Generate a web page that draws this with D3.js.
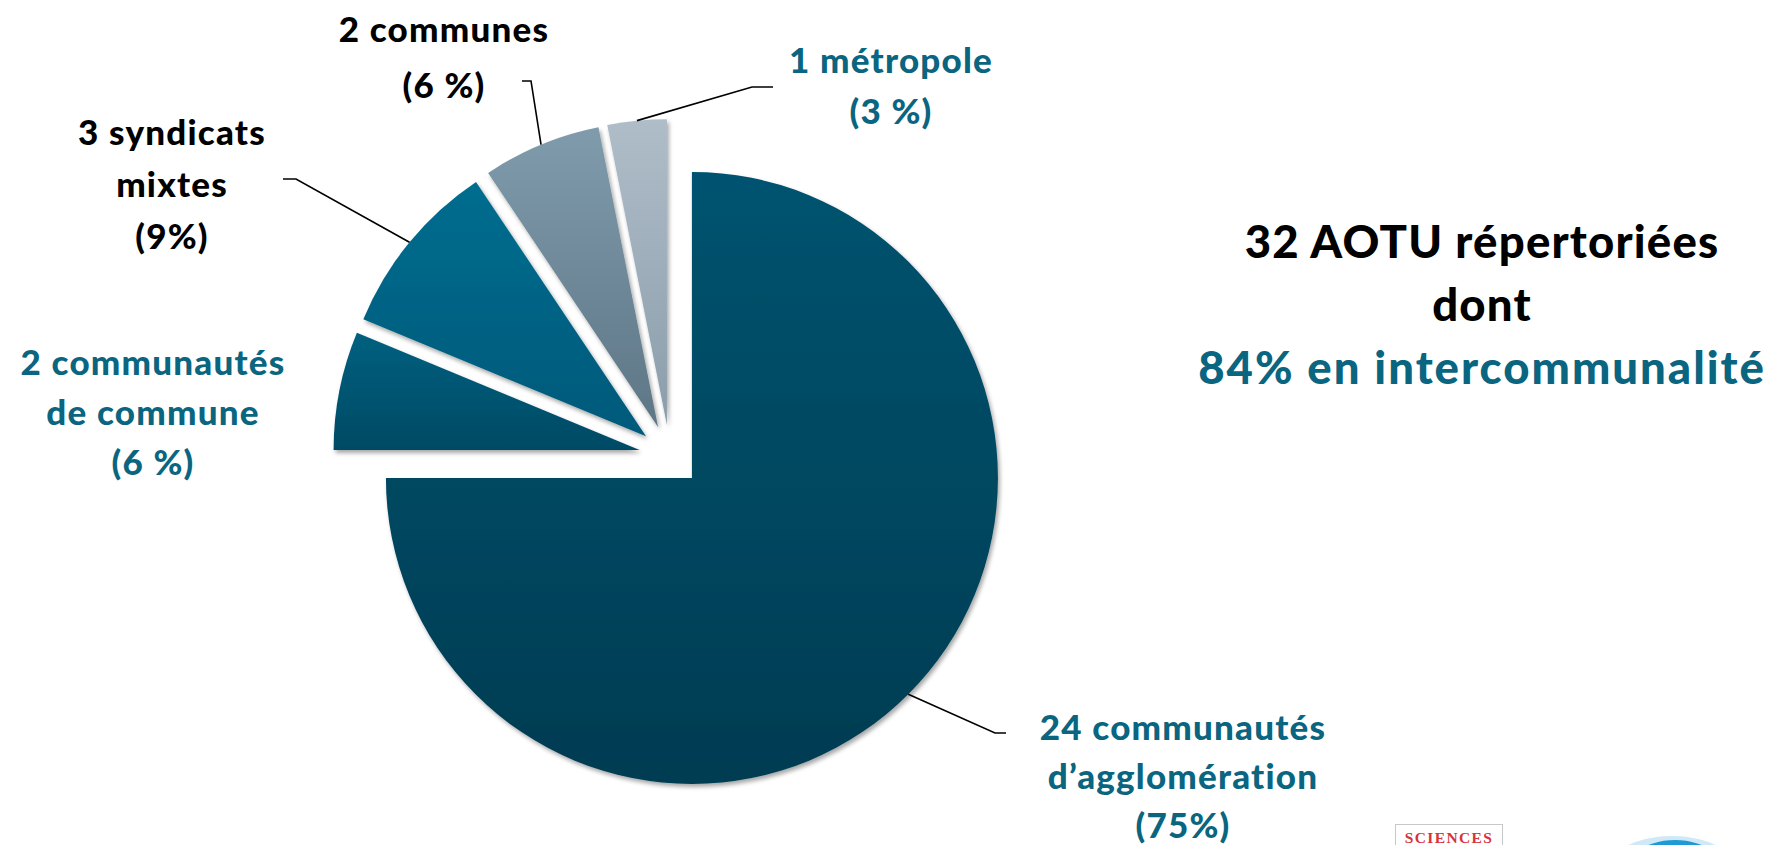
<!DOCTYPE html>
<html>
<head>
<meta charset="utf-8">
<script src="https://cdn.jsdelivr.net/npm/d3@7"></script>
<style>
  html, body { margin: 0; padding: 0; background: #ffffff; }
  svg { display: block; }
  text { font-family: Lato, "Open Sans", sans-serif; font-weight: 900; }
</style>
</head>
<body>
<svg id="chart" width="1773" height="845"></svg>
<script>
// ---- data ----
const categories = ["communautés d’agglomération", "communautés de commune", "syndicats mixtes", "communes", "métropole"];
const counts = [24, 2, 3, 2, 1];
const percentLabels = ["(75%)", "(6 %)", "(9%)", "(6 %)", "(3 %)"];
const labelLines = [
  ["24 communautés", "d’agglomération", "(75%)"],
  ["2 communautés", "de commune", "(6 %)"],
  ["3 syndicats", "mixtes", "(9%)"],
  ["2 communes", "(6 %)"],
  ["1 métropole", "(3 %)"]
];
const titleLines = ["32 AOTU répertoriées", "dont", "84% en intercommunalité"];

// ---- layout / style ----
const W = 1773, H = 845;
const cx = 670, cy = 456, R = 306, explode = 31;
const teal = "#0a6580";
const sliceGradients = [
  ["#03536f", "#033c52"],
  ["#00607f", "#034a64"],
  ["#036d8f", "#02597a"],
  ["#7f9bac", "#5e7686"],
  ["#afbdc8", "#8b9dab"]
];
const labelColors = [teal, teal, "#000000", "#000000", teal];
// label anchor (center x, first baseline, line step) and leader polyline ends
const labelLayout = [
  {x: 1183, y: 740, dy: 49, leader: [[995, 733], [1006, 733]]},
  {x: 153,  y: 375, dy: 50, leader: null},
  {x: 172,  y: 145, dy: 52, leader: [[296, 179], [283, 179]]},
  {x: 444,  y: 42,  dy: 56, leader: [[531, 81], [522, 81]]},
  {x: 891,  y: 73,  dy: 51, leader: [[752, 87], [773, 87]]}
];

const svg = d3.select("#chart");
const defs = svg.append("defs");

const shadow = defs.append("filter").attr("id", "shadow")
  .attr("x", "-10%").attr("y", "-10%").attr("width", "130%").attr("height", "130%");
shadow.append("feDropShadow").attr("dx", 2).attr("dy", 3).attr("stdDeviation", 2.2)
  .attr("flood-color", "#000").attr("flood-opacity", 0.35);

sliceGradients.forEach((g, i) => {
  const lg = defs.append("linearGradient").attr("id", "grad" + i)
    .attr("x1", 0).attr("y1", 0).attr("x2", 0).attr("y2", 1);
  lg.append("stop").attr("offset", "0%").attr("stop-color", g[0]);
  lg.append("stop").attr("offset", "100%").attr("stop-color", g[1]);
});

const pie = d3.pie().sort(null).startAngle(0).endAngle(2 * Math.PI);
const arcs = pie(counts);
const arc = d3.arc().innerRadius(0).outerRadius(R);

const g = svg.append("g").attr("transform", `translate(${cx},${cy})`);

function offsetOf(d) {
  const a = (d.startAngle + d.endAngle) / 2;
  return [explode * Math.sin(a), -explode * Math.cos(a)];
}

g.selectAll("path.slice").data(arcs).enter().append("path")
  .attr("class", "slice")
  .attr("d", arc)
  .attr("transform", d => { const o = offsetOf(d); return `translate(${o[0]},${o[1]})`; })
  .attr("fill", (d, i) => `url(#grad${i})`)
  .attr("filter", "url(#shadow)");

// leader lines
arcs.forEach((d, i) => {
  const L = labelLayout[i];
  if (!L.leader) return;
  const a = (d.startAngle + d.endAngle) / 2;
  const o = offsetOf(d);
  const p0 = [cx + o[0] + R * Math.sin(a), cy + o[1] - R * Math.cos(a)];
  const pts = [p0].concat(L.leader);
  svg.append("path")
    .attr("d", d3.line()(pts))
    .attr("fill", "none").attr("stroke", "#000").attr("stroke-width", 1.6);
});

// labels
labelLines.forEach((lines, i) => {
  const L = labelLayout[i];
  const t = svg.append("text")
    .attr("text-anchor", "middle")
    .attr("font-size", 35)
    .attr("letter-spacing", 1.2)
    .attr("fill", labelColors[i]);
  lines.forEach((s, k) => {
    t.append("tspan").attr("x", L.x).attr("y", L.y + k * L.dy).text(s);
  });
});

// title block
const titleColors = ["#000000", "#000000", teal];
const titleSpacing = [1.2, 1.2, 2.0];
titleLines.forEach((s, k) => {
  svg.append("text")
    .attr("x", 1482).attr("y", 258 + k * 63)
    .attr("text-anchor", "middle")
    .attr("font-size", 45.5)
    .attr("letter-spacing", titleSpacing[k])
    .attr("fill", titleColors[k])
    .text(s);
});

// logos at bottom right (partially cropped)
svg.append("rect").attr("x", 1395.5).attr("y", 824.5).attr("width", 107).attr("height", 40)
  .attr("fill", "#fff").attr("stroke", "#c8c8c8").attr("stroke-width", 1);
svg.append("text").attr("x", 1449).attr("y", 843).attr("text-anchor", "middle")
  .attr("font-size", 15.5).attr("letter-spacing", 1.4).attr("fill", "#d8333a")
  .style("font-family", "'Liberation Serif', serif").style("font-weight", 700)
  .text("SCIENCES");
svg.append("ellipse").attr("cx", 1672).attr("cy", 880).attr("rx", 72).attr("ry", 44)
  .attr("fill", "#cfe9f6");
svg.append("ellipse").attr("cx", 1675).attr("cy", 885).attr("rx", 58).attr("ry", 45)
  .attr("fill", "#1f9ad6");
</script>
</body>
</html>
